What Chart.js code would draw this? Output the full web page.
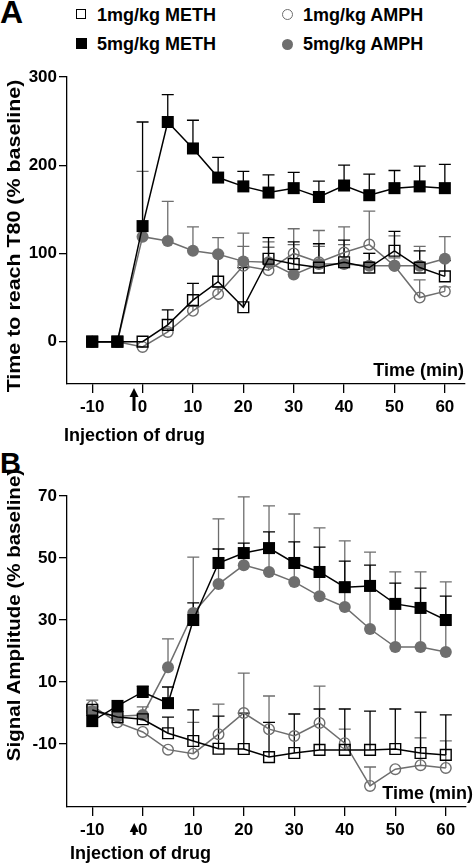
<!DOCTYPE html>
<html>
<head>
<meta charset="utf-8">
<script src="https://cdn.jsdelivr.net/npm/chart.js@4.4.1/dist/chart.umd.min.js"></script>
<style>
  body { margin: 0; background: #fff; width: 475px; height: 863px; position: relative; overflow: hidden;
         font-family: 'Liberation Sans', Arial, sans-serif; font-weight: bold; color: #000; }
  .t { position: absolute; white-space: nowrap; line-height: 1; }
  .ytitle { position: absolute; white-space: nowrap; line-height: 1; font-size: 18px;
            transform-origin: 50% 50%; }
  canvas { position: absolute; left: 0; }
  .mk { position: absolute; box-sizing: border-box; }
</style>
</head>
<body>

<div class="t" style="left:0;top:-4px;font-size:32px">A</div>
<div class="t" style="left:0;top:449px;font-size:29px">B</div>

<!-- legend -->
<div class="mk" style="left:76px;top:9px;width:10px;height:10px;border:1.5px solid #000"></div>
<div class="t" style="left:97px;top:6px;font-size:18px">1mg/kg METH</div>
<div class="mk" style="left:76px;top:38px;width:11px;height:11px;background:#000"></div>
<div class="t" style="left:97px;top:35px;font-size:18px">5mg/kg METH</div>
<div class="mk" style="left:282px;top:9px;width:11px;height:11px;border:1.5px solid #6e6e6e;border-radius:50%"></div>
<div class="t" style="left:303px;top:6px;font-size:18px">1mg/kg AMPH</div>
<div class="mk" style="left:282px;top:39px;width:11px;height:11px;background:#6e6e6e;border-radius:50%"></div>
<div class="t" style="left:303px;top:35px;font-size:18px">5mg/kg AMPH</div>

<canvas id="chartA" width="475" height="445" style="top:0"></canvas>
<canvas id="chartB" width="475" height="418" style="top:445px"></canvas>

<div class="ytitle" style="left:14px;top:236px;transform:translate(-50%,-50%) rotate(-90deg) scaleX(1.19)">Time to reach T80 (% baseline)</div>
<div class="ytitle" style="left:14px;top:615px;transform:translate(-50%,-50%) rotate(-90deg) scaleX(1.14)">Signal Amplitude (% baseline)</div>

<div class="t" style="right:11px;top:361px;font-size:18px">Time (min)</div>
<div class="t" style="left:64px;top:426px;font-size:18px">Injection of drug</div>
<div class="t" style="right:2px;top:784px;font-size:18px">Time (min)</div>
<div class="t" style="left:70px;top:844px;font-size:18px">Injection of drug</div>

<script>
// time points (min)
const timePoints = [-10, -5, 0, 5, 10, 15, 20, 25, 30, 35, 40, 45, 50, 55, 60];
const xTickValues = [-10, 0, 10, 20, 30, 40, 50, 60];
const injectionTime = -1.7;

// panel A: time to reach T80 (% baseline), top of SEM bar in *Top arrays
const yTicksA = [0, 100, 200, 300];
const meth1A    = [0, 0, 0, 19, 47, 68, 39, 94, 88, 84, 90, 84, 103, 84, 74];
const meth1ATop = [null, null, null, 36, 66, 100, 84, 118, 113, 111, 115, 100, 125, 103, 92];
const meth5A    = [0, 0, 131, 249, 219, 186, 176, 169, 174, 164, 177, 166, 174, 176, 174];
const meth5ATop = [null, null, 249, 280, 251, 209, 193, 189, 192, 182, 200, 190, 194, 199, 201];
const amph1A    = [0, 0, -6, 11, 35, 54, 86, 81, 100, 90, 101, 110, 86, 50, 57];
const amph1ATop = [null, null, null, 15, 40, 62, 108, 107, 110, 108, 130, 148, 95, 70, 62];
const amph5A    = [0, 0, 119, 114, 103, 99, 91, 90, 76, 88, 88, 86, 86, 86, 94];
const amph5ATop = [null, null, 193, 159, 130, 118, 123, 113, 128, 126, 110, 100, 120, 108, 119];

// panel B: signal amplitude (% baseline)
const yTicksB = [-10, 10, 30, 50, 70];
const meth1B    = [1, -1.3, -2, -6.5, -9, -11.5, -11.6, -14.2, -12.9, -11.9, -11.9, -11.9, -11.6, -12.9, -13.5];
const meth1BTop = [null, null, null, -1.3, 1, -1, 0, -3, -0.3, 1.3, 1.3, 0.6, 1.3, 0.3, -0.6];
const meth5B    = [-2.6, 2.3, 6.8, 3.2, 30, 48.4, 51.6, 53.2, 48.4, 45.5, 40.6, 41, 35.2, 33.9, 30];
const meth5BTop = [null, null, 8.7, 8.4, 35.5, 52.9, 54.8, 58.4, 55.2, 53.5, 49, 47.7, 41.9, 40.3, 37.7];
const amph1B    = [2.3, -3, -6.1, -11.8, -13.1, -6.8, 0, -5.2, -7.4, -3.2, -9.7, -23.5, -18.1, -16.8, -17.7];
const amph1BTop = [4.2, null, null, null, -3, 2.9, 12.9, 5.5, null, 8.7, -5.2, -17.4, null, -8, -9];
const amph5B    = [0.5, -1, -0.6, 14.8, 32.3, 41.6, 47.7, 45.5, 42.3, 37.7, 34.2, 27.1, 21.3, 21.3, 19.7];
const amph5BTop = [2, null, 2, 23.9, 50.3, 62.6, 69.7, 66.8, 64.2, 59.7, 55.5, 51.9, 45.5, 45.5, 42.3];

const BLACK = '#000';
const GREY = '#6e6e6e';
const tickFont = { family: 'Liberation Sans', size: 17, weight: 'bold' };

// upward-only SEM bars, drawn under the lines
const errorBars = {
  id: 'errorBars',
  beforeDatasetsDraw(chart) {
    const { ctx, scales: { x, y } } = chart;
    chart.data.datasets.slice().reverse().forEach(ds => {
      ctx.save();
      ctx.strokeStyle = ds.borderColor;
      ctx.lineWidth = 1.3;
      ds.data.forEach((p, i) => {
        const top = ds.tops[i];
        if (top == null) return;
        const px = x.getPixelForValue(p.x);
        const y0 = y.getPixelForValue(p.y);
        const y1 = y.getPixelForValue(top);
        ctx.beginPath();
        ctx.moveTo(px, y0); ctx.lineTo(px, y1);
        ctx.moveTo(px - 6, y1); ctx.lineTo(px + 6, y1);
        ctx.stroke();
      });
      ctx.restore();
    });
  }
};

// injection arrow under the x axis
const arrow = {
  id: 'arrow',
  afterDraw(chart, args, opts) {
    const { ctx, scales: { x }, chartArea } = chart;
    const px = x.getPixelForValue(injectionTime);
    const tip = chartArea.bottom + opts.from;
    const end = chartArea.bottom + opts.to;
    ctx.save();
    ctx.fillStyle = BLACK;
    ctx.beginPath();
    ctx.moveTo(px, tip);
    ctx.lineTo(px - 4.5, tip + 9);
    ctx.lineTo(px + 4.5, tip + 9);
    ctx.closePath();
    ctx.fill();
    ctx.fillRect(px - 1.5, tip + 8, 3, end - tip - 8);
    ctx.restore();
  }
};

function series(values, tops, color, style, filled, radius, order) {
  return {
    data: timePoints.map((t, i) => ({ x: t, y: values[i] })),
    tops: tops,
    borderColor: color,
    borderWidth: 1.5,
    pointStyle: style,
    pointRadius: radius,
    pointBackgroundColor: filled ? color : 'rgba(0,0,0,0)',
    pointBorderColor: color,
    pointBorderWidth: filled ? 0 : 1.4,
    order: order
  };
}

function makeChart(id, sets, yTicks, yMin, yMax, xMax, pad, xAxisHeight, arrowPos) {
  return new Chart(document.getElementById(id), {
    type: 'line',
    data: { datasets: sets },
    options: {
      responsive: false,
      animation: false,
      devicePixelRatio: 1,
      layout: { padding: pad },
      plugins: { legend: { display: false }, tooltip: { enabled: false }, arrow: arrowPos },
      scales: {
        x: {
          type: 'linear', min: -15, max: xMax,
          afterBuildTicks: s => { s.ticks = xTickValues.map(v => ({ value: v })); },
          afterFit: s => { s.height = xAxisHeight; },
          grid: { drawOnChartArea: false, tickLength: 9, color: BLACK, lineWidth: 1.3 },
          border: { color: BLACK, width: 1.3 },
          ticks: { color: BLACK, font: tickFont, padding: 4, maxRotation: 0 }
        },
        y: {
          min: yMin, max: yMax,
          afterBuildTicks: s => { s.ticks = yTicks.map(v => ({ value: v })); },
          afterFit: s => { s.width = 67; },
          grid: { drawOnChartArea: false, tickLength: 8, color: BLACK, lineWidth: 1.3 },
          border: { color: BLACK, width: 1.3 },
          ticks: { color: BLACK, font: tickFont, padding: 2 }
        }
      }
    },
    plugins: [errorBars, arrow]
  });
}

makeChart('chartA', [
  series(meth5A, meth5ATop, BLACK, 'rect', true, 8.5, 0),
  series(meth1A, meth1ATop, BLACK, 'rect', false, 7.6, 1),
  series(amph5A, amph5ATop, GREY, 'circle', true, 6, 2),
  series(amph1A, amph1ATop, GREY, 'circle', false, 5.3, 3)
], yTicksA, -48, 300, 64, { left: 0, top: 77, right: 10, bottom: 0 }, 61, { from: 4, to: 27 });

makeChart('chartB', [
  series(meth5B, meth5BTop, BLACK, 'rect', true, 8.5, 0),
  series(meth1B, meth1BTop, BLACK, 'rect', false, 7.6, 1),
  series(amph5B, amph5BTop, GREY, 'circle', true, 6, 2),
  series(amph1B, amph1BTop, GREY, 'circle', false, 5.3, 3)
], yTicksB, -30.3, 70, 64, { left: 0, top: 51, right: 3, bottom: 0 }, 56, { from: 16, to: 28 });
</script>
</body>
</html>
